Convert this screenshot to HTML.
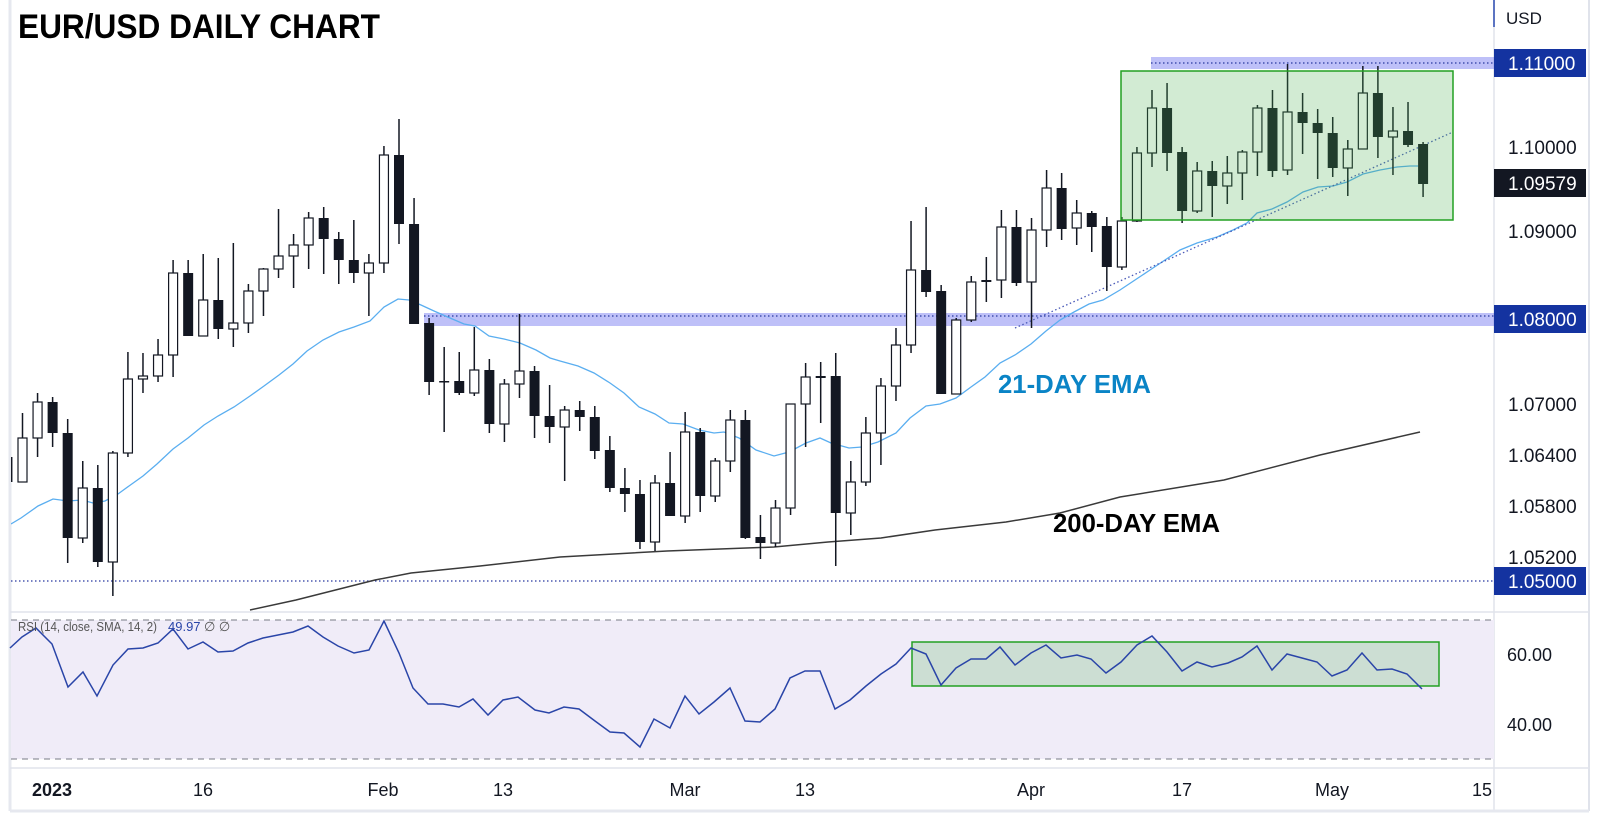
<!DOCTYPE html>
<html><head><meta charset="utf-8"><style>
html,body{margin:0;padding:0;background:#fff;width:1600px;height:813px;overflow:hidden}
svg{display:block}
text{font-family:"Liberation Sans",sans-serif}
</style></head><body>
<svg id="s" width="1600" height="813" xmlns="http://www.w3.org/2000/svg">
<rect x="0" y="0" width="1600" height="813" fill="#fff"/>
<defs><clipPath id="cp"><rect x="11" y="0" width="1483" height="611"/></clipPath></defs>
<line x1="10" y1="0" x2="10" y2="811" stroke="#e6e8ef" stroke-width="3"/>
<line x1="1494" y1="0" x2="1494" y2="811" stroke="#e0e3eb" stroke-width="1.5"/>
<line x1="1494" y1="0" x2="1494" y2="27" stroke="#2a4bb0" stroke-width="1.5"/>
<line x1="1589" y1="0" x2="1589" y2="811" stroke="#e0e3eb" stroke-width="2"/>
<line x1="10" y1="612" x2="1589" y2="612" stroke="#e0e3eb" stroke-width="1.5"/>
<line x1="10" y1="768" x2="1589" y2="768" stroke="#e0e3eb" stroke-width="1.5"/>
<line x1="10" y1="811" x2="1589" y2="811" stroke="#e6e8ef" stroke-width="3"/>
<rect x="11" y="620" width="1483" height="139" fill="#f0ecf8"/>
<line x1="11" y1="620" x2="1494" y2="620" stroke="#787b86" stroke-dasharray="6,5"/>
<line x1="11" y1="759" x2="1494" y2="759" stroke="#787b86" stroke-dasharray="6,5"/>
<rect x="912" y="642" width="527" height="44" fill="rgba(76,175,80,0.22)" stroke="#22a022" stroke-width="1.5"/>
<polyline fill="none" stroke="#2a45a8" stroke-width="1.5" points="10,648 22,637 36,628 52,644 68,687 83,672 97,696 113,665 128,649 143,648 158,643 173,629 188,649 203,642 218,652 233,651 248,643 263,638 278,635 293,632 308,626 323,637 338,646 354,653 369,650 384,621 399,653 413,688 428,704 443,704 459,707 473,699 488,715 503,700 518,697 535,710 549,713 564,707 579,709 595,721 610,732 624,733 640,747 654,719 670,728 685,696 699,714 714,702 730,688 745,721 760,722 775,709 790,678 805,671 820,671 835,709 850,700 866,686 881,674 896,664 911,648 926,654 941,685 956,668 971,659 986,659 1000,647 1015,665 1031,653 1046,645 1061,658 1077,655 1091,659 1106,673 1121,662 1137,645 1152,636 1167,652 1182,671 1197,662 1212,667 1228,663 1242,657 1257,646 1272,670 1287,654 1302,658 1317,662 1332,676 1347,670 1362,653 1377,670 1392,669 1407,674 1422,689"/>
<text x="18" y="631" font-size="13" fill="#555" textLength="139" lengthAdjust="spacingAndGlyphs">RSI (14, close, SMA, 14, 2)</text>
<text x="168" y="631" font-size="13" fill="#2a45a8">49.97</text>
<text x="204" y="631" font-size="13" fill="#555">∅  ∅</text>
<text x="1507" y="661" font-size="18" fill="#131722">60.00</text>
<text x="1507" y="731" font-size="18" fill="#131722">40.00</text>
<g font-size="18" fill="#131722" text-anchor="middle">
<text x="52" y="796" font-weight="bold">2023</text>
<text x="203" y="796">16</text>
<text x="383" y="796">Feb</text>
<text x="503" y="796">13</text>
<text x="685" y="796">Mar</text>
<text x="805" y="796">13</text>
<text x="1031" y="796">Apr</text>
<text x="1182" y="796">17</text>
<text x="1332" y="796">May</text>
<text x="1482" y="796">15</text>
</g>
<g clip-path="url(#cp)" id="main">
<rect x="424" y="313" width="1070" height="13" fill="rgba(70,75,235,0.35)"/>
<line x1="424" y1="316" x2="1494" y2="316" stroke="#2838a0" stroke-dasharray="1.5,2.5" stroke-width="1.2"/>
<rect x="1151" y="57" width="343" height="12" fill="rgba(70,75,235,0.35)"/>
<line x1="1151" y1="63" x2="1494" y2="63" stroke="#2838a0" stroke-dasharray="1.5,2.5" stroke-width="1.2"/>
<line x1="11" y1="581" x2="1494" y2="581" stroke="#2838a0" stroke-dasharray="1.5,2.5" stroke-width="1.2"/>
<polyline fill="none" stroke="#3a3a3a" stroke-width="1.5" points="250,610 296,600 375,580 411,573 480,566 560,557 667,551 774,547 828,542 881,538 935,530 1006,522 1060,513 1120,497 1224,480 1320,455 1420,432"/>
<polyline fill="none" stroke="#5aaef0" stroke-width="1.3" points="11,524 21,518 38,506 53,499 68,501 82,500 93,503 105,501 118,494 129,486 143,476 157,464 173,449 188,438 204,425 218,416 234,407 250,396 264,386 279,375 293,364 307,351 323,340 339,332 354,327 370,321 384,307 398,299 409,300 421,305 434,311 450,318 464,324 475,326 489,336 504,339 520,343 536,350 550,358 560,361 578,366 594,373 610,383 624,393 639,407 655,414 669,423 683,424 699,430 714,433 724,432 739,438 756,450 774,456 789,452 806,443 820,438 831,443 849,448 862,447 878,442 896,433 910,418 926,406 940,404 956,398 971,387 985,377 1000,363 1015,355 1031,344 1046,331 1060,320 1074,312 1089,304 1103,300 1120,290 1150,270 1180,250 1197,243 1217,237 1233,230 1247,223 1257,213 1272,209 1287,202 1303,192 1318,187 1333,186 1347,182 1363,174 1380,170 1397,167 1410,166 1418,166"/>
<line x1="1015" y1="328" x2="1453" y2="132" stroke="#4a5ab8" stroke-dasharray="1.5,2.5" stroke-width="1.3"/>
<g id="candles"></g>
<rect x="1121" y="71" width="332" height="149" fill="rgba(76,175,80,0.25)" stroke="#22a022" stroke-width="1.5"/>
</g>
<text x="998" y="393" font-size="26" font-weight="bold" fill="#0a84c6" textLength="153" lengthAdjust="spacingAndGlyphs">21-DAY EMA</text>
<text x="1053" y="532" font-size="26" font-weight="bold" fill="#000" textLength="167" lengthAdjust="spacingAndGlyphs">200-DAY EMA</text>
<text x="18" y="38" font-size="34" font-weight="bold" fill="#000" textLength="362" lengthAdjust="spacingAndGlyphs">EUR/USD DAILY CHART</text>
<text x="1506" y="24" font-size="17" fill="#131722">USD</text>
<rect x="1494" y="49" width="92" height="28" fill="#1433a0"/>
<text x="1508" y="70" font-size="19" fill="#fff">1.11000</text>
<rect x="1494" y="305" width="92" height="28" fill="#1433a0"/>
<text x="1508" y="326" font-size="19" fill="#fff">1.08000</text>
<rect x="1494" y="567" width="92" height="28" fill="#1433a0"/>
<text x="1508" y="588" font-size="19" fill="#fff">1.05000</text>
<rect x="1494" y="169" width="92" height="28" fill="#131722"/>
<text x="1508" y="190" font-size="19" fill="#fff">1.09579</text>
<g font-size="19" fill="#131722">
<text x="1508" y="154">1.10000</text>
<text x="1508" y="238">1.09000</text>
<text x="1508" y="411">1.07000</text>
<text x="1508" y="462">1.06400</text>
<text x="1508" y="513">1.05800</text>
<text x="1508" y="564">1.05200</text>
</g>
</svg>
<script>
var D=[[0,450,457,482,490,1],[1,413,438,482,482,0],[2,393,402,438,457,0],[3,397,402,433,447,1],[4,419,433,538,563,1],[5,461,488,538,543,0],[6,465,488,562,567,1],[7,451,453,562,596,0],[8,352,379,453,457,0],[9,353,376,379,393,0],[10,339,355,376,382,0],[11,260,273,355,377,0],[12,260,273,336,336,1],[13,254,300,336,336,0],[14,258,300,329,339,1],[15,243,323,329,347,0],[16,284,291,323,333,0],[17,268,269,291,316,0],[18,209,256,269,278,0],[19,234,245,256,288,0],[20,212,218,245,269,0],[21,207,218,239,274,1],[22,232,239,260,284,1],[23,220,260,273,283,1],[24,254,263,273,316,0],[25,146,155,263,273,0],[26,119,155,224,244,1],[27,198,224,324,324,1],[28,318,323,382,395,1],[29,347,381,382,432,1],[30,352,381,393,395,1],[31,327,370,393,396,0],[32,359,370,424,433,1],[33,379,384,424,442,0],[34,314,371,384,398,0],[35,366,371,416,438,1],[36,385,416,427,443,1],[37,406,410,427,481,0],[38,401,410,417,431,1],[39,406,417,451,459,1],[40,436,450,488,492,1],[41,468,488,494,512,1],[42,480,494,542,549,1],[43,475,483,542,551,0],[44,452,483,516,516,1],[45,412,432,516,523,0],[46,428,432,496,512,1],[47,458,461,496,502,0],[48,410,420,461,472,0],[49,410,420,538,539,1],[50,515,537,543,559,1],[51,500,508,543,547,0],[52,404,404,508,515,0],[53,363,377,404,447,0],[54,362,376,378,423,1],[55,353,376,513,566,1],[56,461,482,513,535,0],[57,417,433,482,486,0],[58,378,386,433,465,0],[59,328,345,386,401,0],[60,221,270,345,353,0],[61,207,270,292,297,1],[62,285,291,394,394,1],[63,318,320,394,394,0],[64,276,282,320,322,0],[65,257,280,282,302,1],[66,210,227,280,298,0],[67,210,227,283,286,1],[68,218,230,282,328,0],[69,170,188,230,247,0],[70,173,188,229,240,1],[71,200,213,228,245,0],[72,211,213,227,252,1],[73,217,226,267,291,1],[74,217,221,267,270,0],[75,147,153,221,222,0],[76,90,108,153,167,0],[77,83,108,153,171,1],[78,147,152,211,223,1],[79,162,171,211,213,0],[80,161,171,186,217,1],[81,156,173,186,204,0],[82,150,152,173,200,0],[83,105,108,152,176,0],[84,90,108,171,177,1],[85,64,112,170,175,0],[86,93,112,123,154,1],[87,109,123,133,179,1],[88,117,133,168,177,1],[89,140,149,168,196,0],[90,66,93,149,149,0],[91,66,93,137,158,1],[92,107,131,137,175,0],[93,102,131,145,147,1],[94,142,144,184,197,1]];
var g=document.getElementById('candles'),h='';
D.forEach(function(c){var x=22.5+15.06*(c[0]-1);var col='#131722';
h+='<line x1="'+x+'" y1="'+c[1]+'" x2="'+x+'" y2="'+c[4]+'" stroke="'+col+'" stroke-width="1.5"/>';
var hh=Math.max(c[3]-c[2],1.5);
if(c[5])h+='<rect x="'+(x-5)+'" y="'+c[2]+'" width="10" height="'+hh+'" fill="'+col+'"/>';
else h+='<rect x="'+(x-4.5)+'" y="'+c[2]+'" width="9" height="'+hh+'" fill="#fff" stroke="'+col+'" stroke-width="1.2"/>';});
g.innerHTML=h;
</script>
</body></html>
